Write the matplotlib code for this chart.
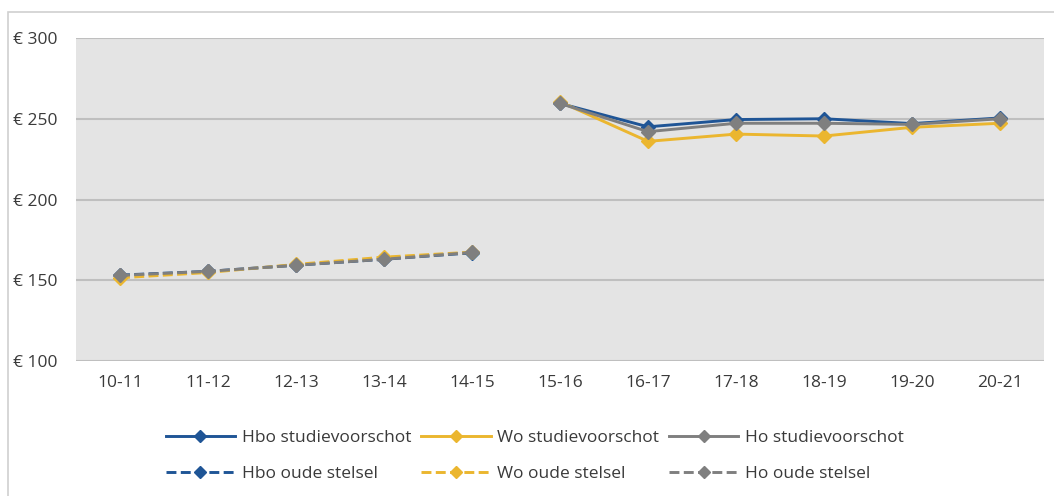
import numpy as np
import matplotlib
matplotlib.use("Agg")
import matplotlib.pyplot as plt
from matplotlib.patches import Rectangle

categories = ["10-11", "11-12", "12-13", "13-14", "14-15", "15-16",
              "16-17", "17-18", "18-19", "19-20", "20-21"]
nan = np.nan
hbo_new = [nan, nan, nan, nan, nan, 259.5, 245.0, 249.5, 250.0, 247.0, 250.5]
wo_new = [nan, nan, nan, nan, nan, 260.5, 236.0, 240.5, 239.3, 244.7, 247.2]
ho_new = [nan, nan, nan, nan, nan, 259.5, 242.0, 247.2, 247.2, 246.5, 250.0]
hbo_old = [153.2, 155.5, 159.3, 163.0, 167.0, nan, nan, nan, nan, nan, nan]
wo_old = [151.5, 154.8, 159.8, 164.3, 167.4, nan, nan, nan, nan, nan, nan]
ho_old = [153.0, 155.5, 159.3, 163.0, 167.2, nan, nan, nan, nan, nan, nan]
yticks = [100, 150, 200, 250, 300]
ytick_labels = [f"€ {v}" for v in yticks]

BLUE = "#1F5596"
GOLD = "#EBB62F"
GRAY = "#7F7F7F"
TXT = "#3A3A3A"
FS = 12.5

plt.rcParams["font.family"] = ["Open Sans", "DejaVu Sans"]

fig = plt.figure(figsize=(10.54, 4.96), dpi=100)
W, H = 1054, 496
ax = fig.add_axes([76 / W, 1 - 361 / H, (1044 - 76) / W, (361 - 38) / H])
ax.set_facecolor("#E4E4E4")

x = np.arange(len(categories))
lw = 2.1
ms = 7.5
common = dict(marker="D", markersize=ms, linewidth=lw)
h1, = ax.plot(x, hbo_new, color=BLUE, markerfacecolor=BLUE, markeredgecolor=BLUE, label="Hbo studievoorschot", **common)
h2, = ax.plot(x, wo_new, color=GOLD, markerfacecolor=GOLD, markeredgecolor=GOLD, label="Wo studievoorschot", **common)
h3, = ax.plot(x, ho_new, color=GRAY, markerfacecolor=GRAY, markeredgecolor=GRAY, label="Ho studievoorschot", **common)
dash = (0, (3.4, 1.5))
h4, = ax.plot(x, hbo_old, color=BLUE, linestyle=dash, markerfacecolor=BLUE, markeredgecolor=BLUE, label="Hbo oude stelsel", **common)
h5, = ax.plot(x, wo_old, color=GOLD, linestyle=dash, markerfacecolor=GOLD, markeredgecolor=GOLD, label="Wo oude stelsel", **common)
h6, = ax.plot(x, ho_old, color=GRAY, linestyle=dash, markerfacecolor=GRAY, markeredgecolor=GRAY, label="Ho oude stelsel", **common)

ax.set_xlim(-0.5, len(categories) - 0.5)
ax.set_ylim(100, 300)
ax.set_yticks(yticks)
ax.set_yticklabels(ytick_labels)
ax.set_xticks(x)
ax.set_xticklabels(categories)
ax.yaxis.grid(True, color="#BFBFBF", linewidth=1.5)
ax.set_axisbelow(True)
for s in ax.spines.values():
    s.set_visible(False)
ax.tick_params(axis="both", length=0, labelsize=FS, labelcolor=TXT)
ax.tick_params(axis="y", pad=(76 - 13) * 0.72)
ax.tick_params(axis="x", pad=10)
for lab in ax.get_yticklabels():
    lab.set_horizontalalignment("left")

handles = [h1, h4, h2, h5, h3, h6]
leg = fig.legend(handles=handles, labels=[h.get_label() for h in handles],
                 ncol=3, loc="center left", bbox_to_anchor=(150 / W, 1 - 456 / H),
                 frameon=False, fontsize=FS, handlelength=4.0, handletextpad=0.4,
                 columnspacing=0.55, labelspacing=1.15, labelcolor=TXT, markerscale=0.75)

fig.patches.append(Rectangle((8 / W, -0.1), 1.2, 1 - 12 / H + 0.1, transform=fig.transFigure,
                             fill=False, edgecolor="#D0D0D0", linewidth=1.2, figure=fig))

fig.savefig("out.png", dpi=100)
